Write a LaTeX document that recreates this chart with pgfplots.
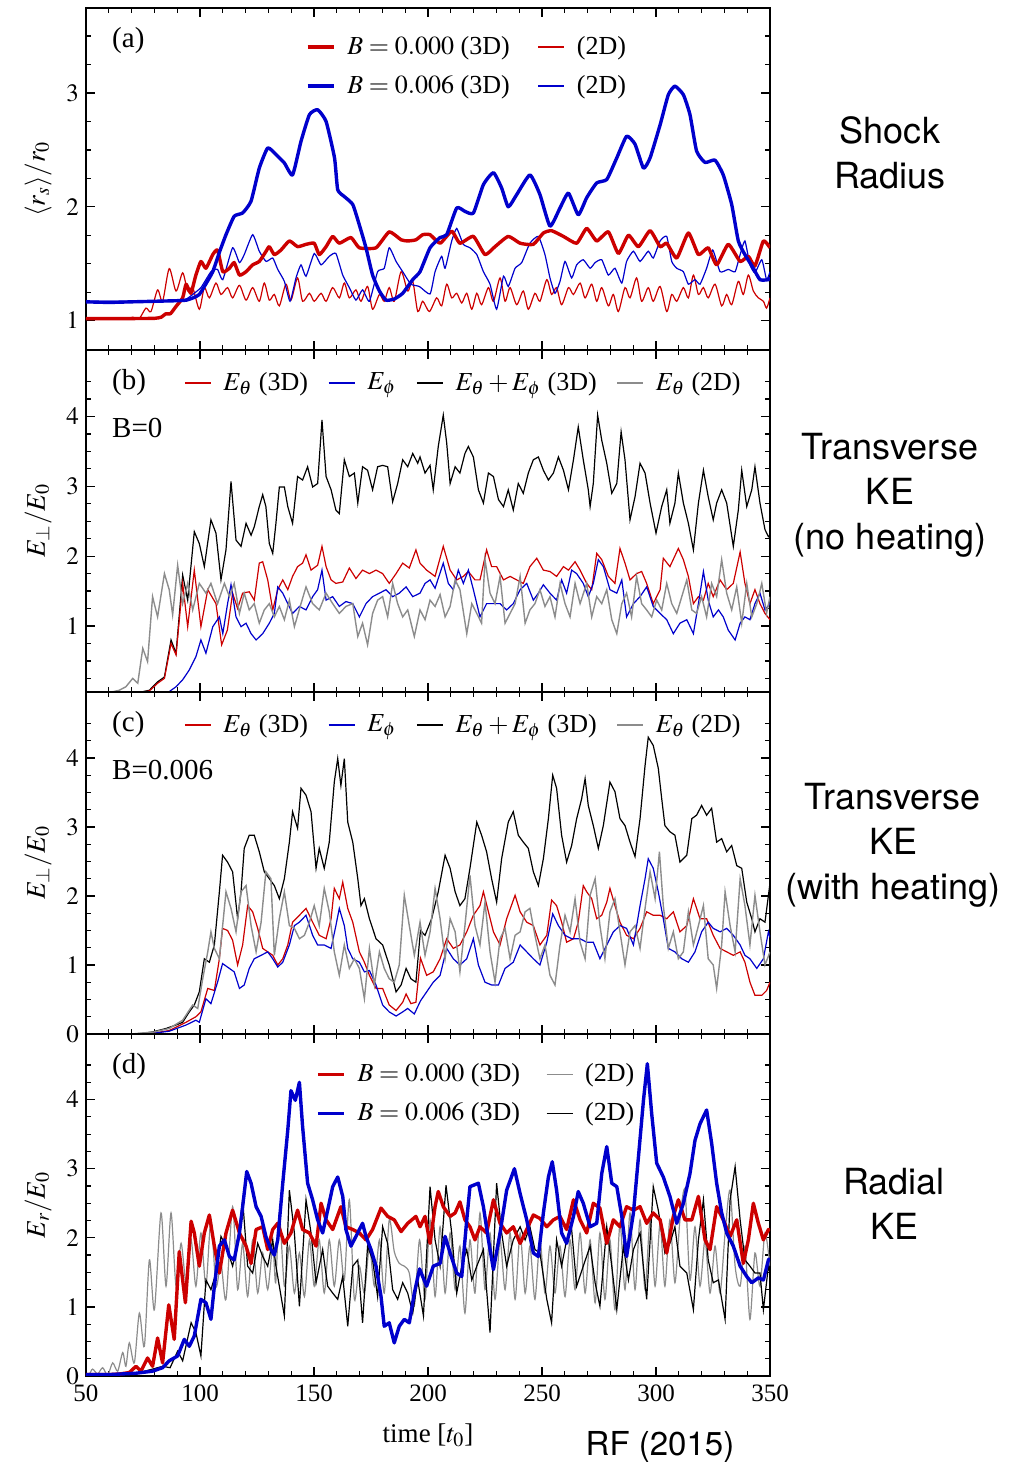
\documentclass[border=0pt]{standalone}
\usepackage{mathptmx}
\usepackage{fontspec}
\setmainfont{Liberation Serif}
\newfontfamily\sansf{TeX Gyre Heros}
\usepackage{pgfplots}
\pgfplotsset{compat=1.18}
\definecolor{cR}{RGB}{204,0,0}
\definecolor{cB}{RGB}{0,0,204}
\definecolor{cG}{RGB}{140,140,140}
\pgfplotsset{
  panel/.style={
    scale only axis, width=342pt, height=171pt,
    xmin=50, xmax=350, xtick={50,100,...,350}, minor x tick num=4,
    xticklabels={},
    tick align=inside, xtick pos=both, ytick pos=both,
    major tick length=4.5pt, minor tick length=2.5pt,
    every tick/.style={black, line width=0.6pt},
    axis line style={line width=0.7pt},
    tick label style={font=\fontsize{12.5}{14}\selectfont},
    every axis y label/.style={at={(axis description cs:-0.07,0.5)}, rotate=90, anchor=center, font=\fontsize{13.5}{15}\selectfont},
    legend cell align=left,
    legend image code/.code={\draw[##1] (0pt,0pt) -- (13pt,0pt);},
    legend style={draw=none, fill=none, font=\fontsize{13}{15}\selectfont, inner sep=1pt},
  },
  thn/.style={line width=0.6pt},
  thk/.style={line width=1.7pt, line join=round},
}
\begin{document}
\begin{tikzpicture}
\useasboundingbox (0,0) rectangle (509pt,733pt);
% ---------------- (a)
\begin{axis}[panel, at={(43pt,558pt)}, anchor=south west,
  ymin=0.742, ymax=3.747, ytick={1,2,3},
  minor ytick={1.25,1.5,1.75,2.25,2.5,2.75,3.25,3.5},
  ylabel={$\langle r_s\rangle/r_0$},
  legend columns=2,
  legend style={at={(0.318,0.829)}, anchor=west, row sep=5pt, /tikz/every odd column/.append style={column sep=4pt}, /tikz/every even column/.append style={column sep=12pt}}]
\addplot[cR, thn, forget plot, smooth, tension=0.45] coordinates {(50,1.018) (60,1.018) (68,1.02) (70.5,1.03) (73.4,1.02) (76.3,1.11) (78.5,1.08) (81.4,1.27) (83.6,1.17) (86.5,1.457) (89.5,1.26) (92.4,1.42) (94.6,1.26) (96.8,1.29) (99.7,1.10) (101.9,1.29) (104.1,1.20) (107,1.33) (109.2,1.23) (112.1,1.29) (114.3,1.20) (117.3,1.31) (120.2,1.18) (123.1,1.29) (126,1.17) (128.2,1.33) (130.4,1.18) (132.6,1.23) (134.8,1.13) (137.7,1.32) (139.9,1.18) (142.8,1.375) (145,1.17) (148,1.24) (150.1,1.17) (153.1,1.24) (155.3,1.17) (158.2,1.29) (161.1,1.20) (163.3,1.33) (165.5,1.20) (168.4,1.27) (170.6,1.17) (173.5,1.30) (175.7,1.10) (178.7,1.23) (180.8,1.17) (183,1.29) (185.2,1.17) (188.2,1.43) (191.1,1.26) (193.3,1.345) (195.5,1.08) (197.7,1.17) (200.6,1.08) (203.8,1.20) (206,1.13) (208.2,1.32) (210.4,1.20) (212.6,1.24) (214.8,1.155) (217,1.24) (219.2,1.10) (221.4,1.24) (223.5,1.14) (226.5,1.29) (228.7,1.17) (231.6,1.375) (233.8,1.17) (236,1.29) (238.9,1.14) (241.8,1.26) (244,1.10) (246.9,1.24) (249.1,1.17) (252.1,1.36) (254.2,1.23) (256.4,1.29) (258.6,1.14) (261.6,1.29) (263.8,1.23) (266.7,1.33) (268.9,1.20) (271.8,1.32) (274,1.17) (276.2,1.29) (279.1,1.13) (281.3,1.23) (283.5,1.08) (286.4,1.29) (288.6,1.20) (291.5,1.375) (293.7,1.17) (296.6,1.29) (298.8,1.17) (301.8,1.30) (304.7,1.08) (306.9,1.23) (309.1,1.17) (312,1.29) (314.2,1.20) (316.4,1.40) (318.6,1.23) (320.8,1.29) (322.9,1.20) (325.9,1.32) (328.8,1.13) (331,1.23) (333.2,1.14) (336.1,1.345) (338.3,1.23) (340.5,1.40) (342.7,1.26) (344.9,1.20) (347.1,1.17) (348.5,1.11) (350,1.20)};
\addplot[cB, thn, forget plot, smooth, tension=0.3] coordinates {(50,1.17) (60,1.17) (70,1.17) (80,1.17) (90,1.175) (94,1.19) (96.8,1.23) (100.4,1.29) (104.8,1.43) (107.7,1.45) (110,1.36) (114.3,1.64) (117.3,1.51) (119.4,1.58) (123.1,1.755) (126,1.61) (129,1.52) (131.9,1.55) (134.1,1.45) (137,1.345) (139.5,1.17) (142.1,1.375) (144.3,1.49) (146.5,1.39) (150.1,1.59) (153.1,1.49) (156.7,1.565) (159.6,1.59) (162.6,1.40) (165.5,1.29) (168.4,1.18) (171.3,1.27) (174.3,1.17) (177.9,1.43) (180.8,1.46) (183,1.64) (186,1.52) (188.9,1.43) (192.5,1.32) (196.2,1.30) (200.9,1.234) (203.1,1.43) (206,1.565) (207.5,1.46) (210.4,1.70) (212.6,1.81) (215.5,1.67) (218.4,1.64) (221.4,1.58) (224.3,1.43) (227.2,1.32) (230.1,1.10) (233.1,1.39) (235.2,1.30) (238.2,1.46) (241.1,1.51) (244.7,1.68) (248.4,1.74) (251.3,1.58) (253.5,1.375) (255.7,1.24) (257.9,1.345) (260.1,1.52) (263,1.375) (265.2,1.49) (268.1,1.535) (271.1,1.46) (273.3,1.51) (276.2,1.535) (279.1,1.40) (282,1.46) (285,1.33) (287.1,1.52) (290.1,1.61) (293,1.52) (296.6,1.61) (298.8,1.55) (301.8,1.70) (304.7,1.74) (306.9,1.52) (309.1,1.46) (312,1.43) (314.2,1.32) (317.1,1.36) (319.3,1.32) (322.2,1.46) (324.9,1.62) (328.1,1.43) (331.7,1.45) (334.7,1.43) (336.9,1.58) (339,1.70) (341.2,1.49) (343.4,1.42) (346.4,1.535) (348.5,1.36) (350,1.43)};
\addplot[cR, thk, forget plot, smooth, tension=0.3] coordinates {(50,1.018) (60,1.018) (70,1.018) (80,1.02) (83,1.03) (85,1.06) (87,1.06) (89.5,1.125) (92.4,1.2) (93.9,1.32) (96,1.24) (98.2,1.40) (100.4,1.52) (102.6,1.46) (105.6,1.58) (107.7,1.62) (110,1.43) (112.9,1.46) (115,1.51) (117.3,1.40) (120.2,1.43) (123.1,1.49) (126,1.52) (129,1.61) (130.4,1.65) (132.6,1.58) (135.5,1.62) (139.2,1.70) (142.8,1.65) (146.5,1.67) (150.1,1.68) (152.3,1.58) (155.3,1.65) (158.2,1.74) (161.1,1.68) (166.2,1.73) (169.9,1.64) (177.2,1.64) (183,1.78) (188.2,1.71) (191.1,1.70) (194.7,1.71) (197.7,1.755) (200.9,1.755) (205.3,1.68) (210.4,1.785) (214,1.68) (219.9,1.74) (225,1.58) (229.4,1.65) (235.2,1.74) (240.4,1.68) (246.2,1.67) (250.6,1.77) (254.2,1.79) (259.4,1.74) (265.2,1.68) (269.6,1.81) (274,1.70) (279.1,1.78) (283.5,1.59) (287.9,1.75) (292.3,1.65) (297.4,1.79) (301.8,1.65) (304.7,1.68) (309.1,1.55) (314.2,1.77) (318.6,1.58) (322.9,1.64) (326.6,1.49) (331.7,1.67) (336.9,1.52) (340.5,1.565) (343.4,1.48) (347.1,1.70) (350,1.64)};
\addplot[cB, thk, forget plot, smooth, tension=0.3] coordinates {(50,1.165) (60,1.16) (70,1.165) (80,1.17) (90,1.175) (94,1.18) (97,1.2) (99.7,1.23) (102.5,1.32) (105.6,1.43) (108.5,1.6) (111.4,1.755) (115,1.917) (118.7,1.946) (122.4,2.05) (126,2.34) (129.7,2.517) (133.3,2.46) (137,2.385) (140.6,2.28) (144.3,2.575) (148,2.81) (151.6,2.853) (155.3,2.75) (159,2.43) (160.4,2.15) (163.3,2.09) (167,2.02) (169.9,1.84) (172.8,1.64) (175.7,1.40) (178.7,1.26) (181.6,1.18) (185.2,1.19) (188.9,1.24) (193.3,1.36) (196.5,1.43) (200.9,1.64) (205.3,1.73) (208.2,1.755) (212.6,1.99) (216.2,1.96) (219.9,1.945) (224.3,2.195) (228.7,2.30) (232.3,2.165) (235.2,2.0) (238.9,2.107) (244.7,2.28) (249.1,2.107) (253.5,1.83) (257.9,1.99) (261.6,2.12) (265.9,1.93) (269.6,2.08) (274,2.21) (278.4,2.24) (282.8,2.43) (287.1,2.62) (290.8,2.55) (294.5,2.34) (297.4,2.43) (301.8,2.72) (305.4,2.985) (308.3,3.06) (312,2.985) (314.9,2.81) (317.8,2.49) (321.5,2.39) (325.9,2.41) (329.5,2.28) (333.2,2.02) (336.1,1.70) (339,1.58) (342.7,1.46) (345.6,1.36) (349.3,1.36) (350,1.38)};
\addlegendimage{cR, thk}\addlegendentry{$B=0.000$ (3D)}
\addlegendimage{cR, thn}\addlegendentry{(2D)}
\addlegendimage{cB, thk}\addlegendentry{$B=0.006$ (3D)}
\addlegendimage{cB, thn}\addlegendentry{(2D)}
\node[anchor=west, font=\fontsize{14.5}{16}\selectfont] at (rel axis cs:0.028,0.906) {(a)};
\end{axis}
% ---------------- (b)
\begin{axis}[panel, at={(43pt,387pt)}, anchor=south west,
  ymin=0.055, ymax=4.952, ytick={1,2,3,4},
  minor ytick={0.25,0.5,0.75,1.25,1.5,1.75,2.25,2.5,2.75,3.25,3.5,3.75,4.25,4.5},
  ylabel={$E_\perp/E_0$},
  legend columns=4,
  legend style={at={(0.14,0.9035)}, anchor=west, /tikz/every odd column/.append style={column sep=4pt}, /tikz/every even column/.append style={column sep=8pt}}]
\addplot[black, thn, forget plot] coordinates {(72,0.055) (75,0.06) (77.8,0.08) (81.4,0.20) (84.4,0.27) (87.3,0.80) (89.5,0.61) (92.4,1.73) (94.6,1.37) (97.5,2.35) (99.7,2.18) (101.9,1.85) (104.8,2.52) (107,2.33) (109.2,1.66) (111.4,2.09) (113.6,3.07) (115.8,2.23) (118,2.14) (120.2,2.47) (122.4,2.30) (123.8,2.42) (126,2.71) (127.5,2.88) (128.9,2.71) (130.4,2.18) (131.9,2.04) (133.3,2.47) (134.8,2.99) (137,2.99) (138.5,2.71) (140.6,2.47) (142.8,3.14) (145,3.09) (147.2,3.28) (149.4,2.99) (151.6,3.04) (153.5,3.95) (155.3,3.14) (157.5,2.95) (159.6,2.66) (161.1,2.61) (163.3,3.38) (165.5,3.14) (167.7,3.19) (169.2,2.76) (171.3,3.28) (173.5,3.23) (175.7,2.95) (177.9,3.28) (180.1,3.30) (182.3,3.28) (184.5,2.78) (186.7,3.04) (188.9,3.38) (191.1,3.28) (193.3,3.47) (195.5,3.33) (196.5,3.42) (198.7,3.19) (200.9,3.30) (202.3,2.95) (204.5,3.57) (206.7,4.02) (208.2,3.62) (209.7,3.04) (211.9,3.28) (214,3.19) (216.2,3.47) (217.7,3.57) (219.9,3.42) (222.1,2.95) (224.3,2.76) (226.5,3.19) (228.7,3.14) (230.9,2.81) (233.1,2.71) (235.2,2.95) (237.4,2.66) (239.6,3.04) (241.8,2.90) (244,3.19) (246.2,3.38) (248.4,3.42) (250.6,3.23) (252.8,3.09) (255,3.19) (257.2,3.42) (259.4,3.23) (261.6,2.95) (263.8,3.38) (265.9,3.85) (268.1,3.38) (270.3,2.95) (271.1,2.71) (272.5,3.04) (274.4,4.02) (276.2,3.66) (278.4,3.33) (280.6,2.90) (282.8,3.04) (284.7,3.78) (286.4,3.38) (288.6,2.52) (290.8,2.85) (293,3.33) (295.2,3.19) (297.4,2.76) (300,2.33) (302.5,2.71) (304.7,2.95) (306.1,2.47) (308.3,2.76) (309.8,3.19) (312,2.76) (314.2,2.47) (316.4,2.09) (318.6,2.76) (320.8,3.23) (322.9,2.85) (325.1,2.52) (326.6,2.76) (328.8,2.95) (331,2.76) (333.9,2.14) (336.1,2.66) (337.6,3.23) (339.8,2.71) (342,2.95) (343.4,3.28) (345.6,2.76) (347.8,2.38) (349.3,2.28) (350,2.3)};
\addplot[cR, thn, forget plot] coordinates {(75,0.055) (77.8,0.07) (81.4,0.18) (84.4,0.25) (87.3,0.75) (89.5,0.585) (92.4,1.61) (94.6,0.99) (97.5,1.80) (100.4,0.99) (103.4,1.52) (107,1.32) (109.5,0.73) (112,0.94) (114.3,1.47) (116.5,1.25) (118.7,1.47) (121.6,1.49) (123.8,1.37) (126,1.90) (127.5,1.92) (129.7,1.66) (131.9,1.23) (134.1,1.52) (136.3,1.66) (138.5,1.52) (140.6,1.71) (142.8,1.85) (145,1.90) (146.5,2.02) (148.7,1.80) (151.6,1.87) (153.5,2.14) (155.3,1.85) (157.5,1.66) (159.6,1.61) (162.6,1.63) (165.5,1.83) (168.4,1.68) (171.3,1.80) (174.3,1.75) (177.2,1.80) (180.1,1.75) (183,1.61) (186,1.75) (188.9,1.90) (191.8,1.83) (194.7,2.09) (196.5,1.90) (199.4,1.80) (203.1,1.71) (206.7,2.14) (209.7,1.80) (212.6,1.66) (215.5,1.71) (217.7,1.78) (220.6,1.66) (222.8,1.66) (225.7,2.09) (227.9,1.85) (230.1,1.85) (233.1,1.66) (236,1.71) (238.9,1.66) (241.8,1.61) (244.7,1.85) (247.7,1.97) (250.6,1.80) (253.5,1.78) (256.4,1.71) (259.4,1.85) (261.6,1.80) (264.5,1.92) (266.7,1.80) (269.6,1.61) (271.8,1.52) (274,2.04) (276.2,1.95) (279.1,1.71) (282,1.61) (284.2,2.11) (286.4,1.90) (288.6,1.66) (291.5,1.75) (293.7,1.78) (295.9,1.61) (298.8,1.32) (301.8,1.52) (303.2,1.97) (306.1,1.85) (309.8,2.11) (312,1.95) (314.2,1.71) (316.4,1.32) (318.6,1.42) (320.8,1.37) (322.9,1.61) (325.1,1.42) (328.1,1.66) (331,1.52) (333.9,1.61) (336.9,2.06) (339,1.61) (341.2,1.32) (343.4,1.52) (345.6,1.32) (347.8,1.18) (350,1.09)};
\addplot[cB, thn, forget plot] coordinates {(85,0.055) (86.5,0.06) (89.5,0.13) (92.4,0.23) (95.3,0.37) (98.2,0.56) (100.4,0.80) (102.6,0.61) (105.6,0.99) (108.5,1.13) (110,0.89) (112.1,1.32) (113.6,1.59) (115.8,1.13) (118,0.99) (120.2,1.04) (122.4,0.89) (124.6,0.80) (127.5,0.89) (130.4,1.04) (132.6,1.18) (134.1,1.56) (136.3,1.47) (138.5,1.32) (140.6,1.18) (143.6,1.28) (146.5,1.23) (149.4,1.42) (151.6,1.52) (153.5,1.80) (155.3,1.37) (158.2,1.42) (161.1,1.28) (164,1.35) (167,1.32) (169.9,1.13) (172.8,1.32) (175.7,1.42) (178.7,1.47) (181.6,1.52) (184.5,1.42) (187.4,1.47) (190.4,1.56) (193.3,1.42) (196.5,1.47) (198.7,1.61) (200.9,1.66) (203.1,1.54) (206.7,1.90) (208.9,1.61) (211.1,1.52) (213.3,1.80) (215.5,1.61) (217.7,1.80) (219.9,1.52) (222.8,1.13) (225.7,1.32) (228.7,1.32) (231.6,1.32) (234.5,1.23) (237.4,1.32) (240.4,1.52) (243.3,1.61) (246.2,1.37) (248.4,1.47) (250.6,1.59) (253.5,1.47) (256.4,1.37) (258.6,1.66) (260.8,1.47) (263,1.80) (265.2,1.75) (268.1,1.61) (270.3,1.42) (272.5,1.61) (274.7,1.95) (276.9,1.85) (279.8,1.52) (282.8,1.47) (285,1.66) (287.1,1.13) (290.1,1.32) (293,1.42) (295.9,1.56) (298.8,1.28) (301.8,1.18) (304.7,1.09) (307.6,0.89) (310.5,1.04) (313.5,1.09) (316.4,0.89) (318.6,1.32) (320.8,1.78) (322.9,1.37) (325.1,1.13) (327.4,1.23) (329.5,1.13) (331.7,0.94) (334.7,0.80) (336.9,1.04) (339,1.13) (341.2,1.09) (343.4,1.32) (345.6,1.47) (347.8,1.23) (350,1.32)};
\addplot[cG, line width=0.7pt, forget plot] coordinates {(60,0.055) (62,0.06) (64.6,0.08) (67.5,0.13) (70.5,0.25) (72.7,0.18) (74.9,0.68) (77,0.49) (79.2,1.42) (81.4,1.13) (84.4,1.75) (86.5,1.52) (88,1.16) (90.2,1.87) (92.4,1.32) (94.6,1.61) (96.8,1.23) (99.7,1.61) (102.6,1.47) (104.8,1.61) (107.7,1.32) (110.7,1.61) (112.9,1.42) (115,1.61) (117.3,1.18) (119.4,1.47) (121.6,1.23) (123.8,1.32) (126,1.04) (128.2,1.23) (130.4,1.32) (132.6,1.13) (134.8,1.28) (137,1.09) (139.2,1.37) (141.4,0.99) (144.3,1.32) (146.5,1.56) (149.4,1.32) (152.3,1.23) (155.3,1.47) (158.2,1.32) (161.1,1.18) (164,1.28) (167,1.32) (169.2,0.85) (171.3,1.04) (173.5,0.73) (175.7,1.18) (177.9,1.37) (180.1,1.42) (182.3,1.13) (184.5,1.61) (186.7,1.32) (188.9,1.13) (191.1,1.23) (194,0.85) (196.5,1.23) (198.7,1.09) (200.9,1.37) (203.1,1.28) (205.3,1.45) (207.5,1.13) (209.7,1.28) (211.9,1.66) (214,1.52) (217,0.89) (219.2,1.32) (221.4,1.18) (223.5,1.04) (225,1.95) (227.2,1.47) (229.4,1.32) (231.6,1.71) (233.8,1.04) (236,1.18) (238.2,1.32) (240.4,1.71) (242.6,1.04) (244.7,1.23) (246.9,1.32) (249.1,1.52) (251.3,1.28) (253.5,1.42) (255.7,1.13) (257.9,1.61) (260.1,1.32) (262.3,1.13) (264.5,1.61) (266.7,1.32) (269.6,1.61) (271.8,1.13) (274,1.42) (276.2,1.32) (278.4,1.52) (280.6,1.09) (282.8,0.89) (285,1.32) (287.1,1.47) (289.3,1.13) (291.5,1.71) (293.7,1.32) (295.9,1.23) (298.1,1.13) (300.3,1.37) (302.5,1.23) (304.7,1.61) (306.9,1.32) (309.1,1.18) (311.3,1.42) (313.5,1.66) (315.7,1.23) (317.8,1.18) (320,1.42) (322.2,1.13) (324.4,1.61) (326.6,1.42) (328.8,1.95) (331,1.47) (333.2,1.23) (335.4,1.56) (337.6,1.04) (339.8,1.61) (342,1.13) (344.2,1.32) (346.4,1.61) (348.5,1.18) (350,1.42)};
\addlegendimage{cR, thn}\addlegendentry{$E_\theta$ (3D)}
\addlegendimage{cB, thn}\addlegendentry{$E_\phi$}
\addlegendimage{black, thn}\addlegendentry{$E_\theta+E_\phi$ (3D)}
\addlegendimage{cG, thn}\addlegendentry{$E_\theta$ (2D)}
\node[anchor=west, font=\fontsize{14.5}{16}\selectfont] at (rel axis cs:0.028,0.906) {(b)};
\node[anchor=west, font=\fontsize{14.5}{16}\selectfont] at (rel axis cs:0.028,0.772) {B=0};
\end{axis}
% ---------------- (c)
\begin{axis}[panel, at={(43pt,216pt)}, anchor=south west,
  ymin=0, ymax=4.955, ytick={0,1,2,3,4},
  minor ytick={0.25,0.5,0.75,1.25,1.5,1.75,2.25,2.5,2.75,3.25,3.5,3.75,4.25,4.5},
  ylabel={$E_\perp/E_0$},
  legend columns=4,
  legend style={at={(0.14,0.9035)}, anchor=west, /tikz/every odd column/.append style={column sep=4pt}, /tikz/every even column/.append style={column sep=8pt}}]
\addplot[black, thn, forget plot] coordinates {(50,0.0) (70,0.0) (75,0.01) (79.2,0.03) (85.1,0.08) (89.5,0.13) (92.4,0.17) (95.3,0.32) (97.5,0.42) (99.7,0.61) (101.9,1.09) (104.1,1.04) (106.3,1.29) (108.5,2.06) (109.9,2.59) (112.1,2.49) (114.3,2.35) (116.5,1.67) (118,2.06) (119.4,2.69) (121.6,2.88) (123.8,2.88) (126,2.64) (128.2,2.35) (130.4,2.25) (132.6,2.15) (134.8,1.96) (137,2.25) (139.2,2.78) (140.6,3.22) (142.8,2.98) (144.3,3.56) (146.5,3.46) (148.7,3.22) (150.9,2.40) (152.3,2.69) (154.5,2.40) (156.7,2.78) (158.9,3.65) (160.4,3.99) (161.8,3.60) (163.3,3.99) (164.8,3.07) (167,2.78) (169.2,2.25) (170.6,1.86) (172.1,1.96) (174.3,1.67) (177.2,1.38) (180.1,1.29) (183,1.0) (186,0.61) (188.2,0.71) (190.4,0.95) (192.5,0.80) (194.7,0.75) (196.7,1.5) (198.7,1.43) (201.6,1.67) (204.5,2.06) (207.5,2.59) (209.7,2.40) (211.9,2.06) (214,1.86) (216.2,1.96) (218.4,2.40) (221.4,3.07) (223.5,2.88) (225.7,2.64) (227.9,2.25) (230.1,1.91) (232.3,2.54) (235.2,3.07) (237.4,3.22) (239.6,2.88) (241.8,2.78) (244,2.69) (246.2,2.35) (248.4,2.15) (250.6,2.54) (252.8,3.12) (254.7,3.75) (256.4,3.56) (258.6,2.88) (260.8,2.49) (263,2.73) (265.2,3.12) (267.4,3.41) (268.9,3.70) (270.3,3.31) (272.5,3.02) (274.7,2.69) (276.9,3.02) (279.8,3.65) (282,3.51) (284.2,3.12) (286.4,3.02) (288.6,2.78) (290.8,2.57) (293,3.12) (295.2,3.89) (296.6,4.30) (298.8,4.18) (301,3.85) (302.5,3.41) (303.9,3.02) (306.1,2.93) (308.3,2.88) (310.5,2.49) (313.5,2.59) (315.7,3.12) (317.8,3.17) (320,3.31) (322.2,3.17) (324.4,3.27) (326.6,2.78) (328.8,2.83) (331,2.64) (333.2,2.73) (335.4,2.44) (337.6,2.40) (339.8,1.91) (342,1.67) (343.4,1.48) (345.6,1.67) (347.8,1.62) (349.7,2.11) (350,2.0)};
\addplot[cR, thn, forget plot] coordinates {(50,0) (70,0) (79.2,0.01) (86.5,0.05) (93.9,0.17) (98.2,0.25) (100.4,0.32) (103.4,0.66) (106.3,0.63) (108.5,1.09) (109.9,1.53) (112.1,1.50) (114.3,1.36) (116.5,1.0) (118.7,1.29) (120.9,1.86) (123.1,1.77) (125.3,1.53) (127.5,1.24) (129.7,1.19) (131.9,1.14) (134.1,1.0) (136.3,1.09) (138.5,1.29) (140.6,1.62) (143.6,1.72) (146.5,1.82) (149.4,1.62) (152.3,1.43) (155.3,1.38) (157.5,1.67) (158.9,2.11) (161.1,1.96) (162.6,2.20) (164.8,1.82) (167,1.62) (169.9,1.19) (172.1,1.04) (174.3,0.85) (177.2,0.66) (180.1,0.66) (183,0.42) (186,0.34) (188.9,0.46) (190.4,0.58) (192.5,0.44) (194.7,0.46) (196.7,1.1) (199.4,0.85) (202.3,0.90) (205.3,1.09) (208.2,1.38) (211.1,1.24) (214,1.29) (217,1.48) (219.9,1.72) (222.8,1.86) (224.3,2.06) (226.5,1.77) (228.7,1.48) (231.6,1.29) (234.5,1.67) (238.2,2.01) (240.4,1.77) (243.3,1.62) (246.2,1.57) (249.1,1.29) (252.1,1.43) (254.2,1.94) (256.4,1.86) (258.6,1.62) (260.8,1.33) (263.8,1.38) (265.9,1.62) (268.1,2.15) (269.6,2.06) (271.8,1.96) (274,1.67) (276.2,1.72) (278.4,1.91) (279.8,2.11) (282,1.86) (284.2,1.62) (287.1,1.43) (290.1,1.38) (293,1.53) (295.9,1.77) (298.8,1.72) (301.8,1.72) (304.7,1.67) (307.6,1.77) (310.5,1.48) (313.5,1.57) (316.4,1.96) (319.3,1.67) (322.2,1.67) (325.1,1.43) (328.1,1.24) (331,1.19) (333.9,1.14) (336.9,1.19) (339,1.04) (341.2,0.75) (343.4,0.56) (346.4,0.56) (348.5,0.63) (350,0.75)};
\addplot[cB, thn, forget plot] coordinates {(50,0) (70,0) (79.2,0.01) (86.5,0.04) (93.9,0.13) (98.2,0.20) (99.7,0.17) (102.6,0.51) (104.8,0.44) (107.7,0.75) (109.9,1.02) (112.9,0.95) (115,0.90) (117.3,0.66) (119.4,0.71) (121.6,0.95) (123.8,1.09) (126.8,1.14) (129.7,1.19) (131.9,1.09) (134.1,0.97) (136.3,1.04) (139.2,1.29) (141.4,1.57) (143.6,1.62) (146.5,1.72) (149.4,1.43) (151.6,1.29) (154.5,1.29) (157.5,1.24) (159.6,1.57) (161.1,1.82) (163.3,1.57) (164.8,1.24) (167,1.09) (169.9,1.04) (172.1,0.90) (174.3,0.92) (177.2,0.71) (180.1,0.42) (183,0.32) (186,0.26) (188.9,0.32) (191.1,0.37) (194,0.29) (196.7,0.48) (199.4,0.61) (202.3,0.75) (205.3,0.85) (208.2,1.24) (211.1,1.09) (214,1.0) (217,1.09) (219.9,1.38) (222.1,1.0) (225,0.75) (227.9,0.71) (230.9,0.71) (233.8,0.95) (237.4,1.04) (240.4,1.29) (243.3,1.19) (246.2,1.09) (249.1,1.0) (252.1,1.33) (254.7,1.74) (257.2,1.57) (260.1,1.43) (263,1.38) (266.7,1.38) (269.6,1.33) (272.5,1.33) (275.4,1.09) (278.4,1.29) (281.3,1.48) (284.2,1.57) (287.1,1.53) (290.1,1.29) (293,1.86) (295.2,2.25) (296.6,2.54) (298.8,2.40) (301,2.06) (303.2,1.67) (305.4,1.24) (308.3,1.19) (311.3,1.09) (314.2,1.04) (317.1,1.19) (320,1.48) (322.9,1.62) (325.1,1.53) (328.1,1.48) (331,1.53) (333.9,1.43) (336.9,1.29) (339,1.14) (341.2,1.09) (344.2,0.95) (347.1,1.09) (349.3,1.48) (350,1.4)};
\addplot[cG, line width=0.7pt, forget plot] coordinates {(50,0) (70,0.0) (80,0.03) (86.5,0.08) (92.4,0.20) (96.8,0.42) (99,0.37) (101.2,0.80) (103.4,1.19) (104.8,1.48) (106.3,1.24) (108.5,1.09) (111.4,2.06) (113.6,1.82) (115.8,1.48) (118,2.06) (120.2,2.15) (122.4,1.57) (124.6,1.19) (126.8,1.62) (128.9,2.35) (131.1,2.25) (132.6,1.14) (134.8,1.67) (137,2.06) (139.2,1.57) (141.4,1.53) (143.6,1.38) (145.8,1.43) (148,1.62) (150.1,1.86) (152.3,1.57) (154.5,2.11) (156.7,1.77) (158.9,1.19) (161.1,0.85) (163.3,1.29) (165.5,0.95) (167.7,1.09) (169.9,0.95) (172.1,0.51) (174.3,1.24) (176.5,0.71) (178.7,1.19) (180.8,0.95) (183,0.80) (185.2,0.75) (187.4,1.0) (189.6,2.01) (191.8,1.57) (194,1.14) (196.5,1.62) (198.7,1.14) (200.9,1.48) (203.1,2.11) (205.3,1.67) (207.5,1.09) (209.7,1.67) (211.9,1.48) (214,0.90) (216.2,1.57) (218.4,2.30) (220.6,1.57) (222.8,1.29) (225,1.91) (227.2,1.19) (229.4,0.75) (231.6,1.38) (233.8,1.53) (236,1.09) (238.2,1.43) (240.4,1.48) (242.6,1.77) (244.7,1.82) (246.9,1.43) (249.1,1.09) (251.3,1.29) (253.5,0.85) (255.7,0.71) (257.9,1.29) (260.1,1.72) (262.3,1.48) (264.5,1.96) (266.7,1.33) (268.9,1.09) (271.1,2.01) (273.3,2.25) (275.4,1.57) (277.6,1.09) (279.8,1.77) (282,1.96) (284.2,1.48) (286.4,1.0) (288.6,1.48) (290.8,1.57) (293,1.24) (295.2,1.82) (297.4,2.35) (299.6,1.96) (301.5,2.64) (303.2,1.86) (305.4,1.24) (307.6,1.48) (309.8,1.09) (312,1.19) (314.2,1.77) (316.4,1.29) (318.6,1.57) (320.8,1.86) (322.9,1.09) (325.1,1.0) (326.6,0.66) (328.8,1.29) (330.3,2.06) (332.5,1.57) (334.7,1.19) (336.9,2.25) (339,1.86) (341.2,1.29) (343.4,2.01) (345.6,1.48) (347.8,1.0) (350,1.19)};
\addlegendimage{cR, thn}\addlegendentry{$E_\theta$ (3D)}
\addlegendimage{cB, thn}\addlegendentry{$E_\phi$}
\addlegendimage{black, thn}\addlegendentry{$E_\theta+E_\phi$ (3D)}
\addlegendimage{cG, thn}\addlegendentry{$E_\theta$ (2D)}
\node[anchor=west, font=\fontsize{14.5}{16}\selectfont] at (rel axis cs:0.028,0.906) {(c)};
\node[anchor=west, font=\fontsize{14.5}{16}\selectfont] at (rel axis cs:0.028,0.772) {B=0.006};
\end{axis}
% ---------------- (d)
\begin{axis}[panel, at={(43pt,45pt)}, anchor=south west,
  ymin=0, ymax=4.95, ytick={0,1,2,3,4},
  minor ytick={0.25,0.5,0.75,1.25,1.5,1.75,2.25,2.5,2.75,3.25,3.5,3.75,4.25,4.5},
  xticklabels={50,100,150,200,250,300,350},
  xticklabel style={yshift=-1pt},
  ylabel={$E_r/E_0$},
  xlabel={time [$t_0$]},
  every axis x label/.style={at={(axis description cs:0.5,-0.1725)}, anchor=center, font=\fontsize{13.5}{15}\selectfont},
  legend columns=2,
  legend style={at={(0.333,0.825)}, anchor=west, row sep=5pt, /tikz/every odd column/.append style={column sep=4pt}, /tikz/every even column/.append style={column sep=11pt}}]
\addplot[cG, thn, forget plot, smooth, tension=0.45] coordinates {(50,0.02) (51.5,0.03) (52.9,0.10) (55.1,0.03) (57.3,0.12) (59.5,0.01) (61.7,0.19) (63.9,0.07) (66.1,0.34) (67.5,0.14) (69,0.48) (71.2,0.19) (73.4,0.91) (75.6,0.43) (77.8,1.68) (80,0.96) (82.9,2.36) (85.1,1.30) (87.3,2.36) (89.5,1.30) (91.7,1.92) (93.9,1.35) (96.1,1.97) (98.2,1.30) (100.4,2.07) (102.6,1.30) (104.8,2.26) (107,1.30) (109.2,1.63) (111.4,1.11) (114.3,2.45) (116.5,1.25) (118.7,1.92) (120.9,1.15) (123.1,1.97) (125.3,1.20) (127.5,1.78) (129.7,1.25) (131.9,1.88) (133.2,1.35) (134.8,2.36) (137,1.30) (139.2,1.88) (141.4,1.20) (143.6,1.78) (145.8,1.15) (148,1.97) (150.1,1.30) (152.3,1.97) (154.5,1.20) (156.7,1.97) (158.9,1.30) (161.1,1.97) (163.3,1.39) (165.5,2.55) (167.7,1.11) (169.9,1.59) (172.1,1.20) (174.3,1.88) (176.5,1.30) (178.7,1.97) (180.8,1.20) (183,2.26) (185.2,1.8) (187.4,1.63) (189.6,1.59) (191.8,1.49) (194,1.01) (196.3,1.97) (198.7,1.11) (200.9,2.26) (203.1,1.15) (205.3,2.16) (207.5,1.20) (209.7,2.07) (211.9,1.25) (214,1.88) (216.2,0.91) (218.4,1.97) (220.6,1.20) (222.8,2.36) (225,1.25) (227.2,2.07) (229.4,1.11) (231.6,1.97) (233.8,1.25) (236,2.07) (238.2,1.11) (240.4,2.07) (242.6,1.20) (244.7,1.88) (246.9,1.11) (249.1,1.97) (251.3,1.20) (253.5,1.88) (255.7,1.20) (257.9,1.88) (260.1,1.15) (262.3,1.97) (264.5,1.25) (266.7,2.07) (268.9,1.20) (271.1,1.97) (273.3,1.06) (275.4,2.07) (277.6,1.11) (279.8,1.97) (282,0.96) (284.2,2.21) (286.4,1.25) (288.6,2.36) (290.8,1.25) (293,2.26) (295.2,1.25) (297.4,2.26) (299.6,1.30) (301.8,2.21) (303.9,1.30) (306.1,2.26) (308.3,1.35) (310.5,2.26) (312.7,2.69) (314.9,1.39) (317.1,2.16) (319.3,1.30) (321.5,1.97) (323.7,1.20) (325.9,1.88) (328.1,1.20) (330.3,2.07) (332.5,2.69) (334.7,1.59) (336.9,1.30) (339,1.88) (341.2,0.82) (343.4,1.78) (345.6,1.30) (347.8,2.07) (350,1.59)};
\addplot[black, thn, forget plot] coordinates {(50,0.02) (70,0.02) (79.2,0.10) (83.6,0.14) (86.9,0.12) (90.2,0.36) (92.4,0.22) (96.1,0.77) (98.2,0.63) (100.4,0.29) (102.6,1.39) (104.8,1.25) (107,1.49) (109.2,2.02) (111.4,1.88) (114.3,1.59) (116.5,1.92) (118.7,2.55) (120.9,1.59) (123.1,1.49) (125.3,1.92) (127.5,1.73) (129.7,1.59) (131.9,1.97) (133.3,1.59) (134.8,1.30) (137,0.87) (139.2,2.69) (141.4,2.07) (143.6,1.01) (146.5,2.55) (148.7,2.07) (150.9,1.35) (153.8,1.83) (156,1.30) (158.2,1.20) (160.4,1.11) (162.6,1.44) (164.8,0.72) (167,1.59) (169.2,1.68) (171.3,0.77) (173.5,1.88) (175.7,1.68) (177.9,1.15) (180.1,2.16) (182.3,1.92) (184.5,1.25) (186.7,1.11) (188.9,1.35) (191.1,1.20) (193.3,0.91) (195.5,1.39) (198,0.87) (200.9,2.74) (203.1,1.97) (205.3,1.59) (207.9,2.76) (210.4,2.07) (212.6,1.20) (214.8,1.59) (217,1.83) (219.2,1.39) (221.4,1.59) (224.3,1.83) (227.2,0.63) (230.1,2.79) (232.3,2.07) (234.5,1.59) (237.4,1.97) (240.4,2.16) (242.6,1.97) (244.7,2.16) (246.9,1.83) (249.1,1.78) (252.1,1.11) (254.2,0.77) (256.4,1.97) (258.6,1.59) (260.8,1.97) (263,2.12) (265.2,1.30) (268.1,1.59) (271.1,1.88) (273.3,1.35) (275.4,1.01) (278.4,2.16) (280.6,1.59) (282.8,0.96) (285.7,1.88) (287.9,1.39) (290.1,1.83) (293,2.07) (295.9,1.11) (298.8,2.74) (301,2.40) (303.9,1.78) (306.1,1.92) (308.3,2.16) (310.5,1.59) (313.5,1.49) (316.4,0.96) (318.6,1.97) (320.8,2.55) (322.9,1.68) (325.1,1.35) (327.4,1.39) (330.3,0.82) (332.5,2.55) (334.7,3.03) (336.9,2.26) (339,1.68) (341.2,1.59) (343.4,1.49) (345.6,1.49) (347.1,0.96) (349.3,1.59) (350,1.5)};
\addplot[cR, thk, forget plot] coordinates {(50,0.02) (60,0.02) (65,0.03) (69,0.05) (71.9,0.14) (74.1,0.07) (77,0.26) (79.2,0.14) (81.4,0.55) (83.6,0.19) (86.3,1.03) (88.7,0.53) (90.9,1.80) (93.6,1.06) (96.1,2.24) (97.5,2.07) (99.7,1.59) (101.9,2.07) (104.1,2.33) (106.3,1.88) (108.5,1.49) (111.4,2.07) (114.3,2.40) (117.3,2.07) (120.2,1.88) (122.4,1.63) (124.6,2.12) (127.5,2.16) (129.7,1.83) (131.9,2.12) (134.1,2.21) (137,1.92) (139.9,2.07) (142.8,2.40) (145,2.12) (148,2.07) (150.9,1.88) (153.1,2.50) (155.3,2.26) (158.2,2.12) (161.8,2.45) (164,2.16) (167,2.12) (169.9,2.07) (172.8,1.97) (175.7,2.12) (179.4,2.43) (182.3,2.31) (185.2,2.26) (188.2,2.09) (191.1,2.21) (194.7,2.31) (196.5,2.16) (198.7,2.31) (200.9,1.92) (203.1,2.45) (204.5,2.67) (206.7,2.45) (209.7,2.31) (211.9,2.36) (214,2.52) (216.2,2.26) (218.4,2.16) (220.6,1.97) (222.8,2.16) (225.7,2.07) (228.7,2.55) (231.6,2.21) (234.5,2.07) (237.4,2.16) (240.4,1.92) (243.3,2.12) (246.2,2.33) (249.1,2.28) (252.1,2.16) (255,2.26) (257.9,2.31) (260.8,2.12) (263.8,2.55) (266.7,2.26) (269.6,2.07) (272.5,2.50) (275.4,2.43) (278.4,1.92) (281.3,2.26) (284.2,2.16) (287.1,2.45) (290.1,2.40) (293,2.45) (295.9,2.21) (298.8,2.36) (301.8,2.26) (304.7,1.78) (307.6,2.31) (309.8,2.55) (312.7,2.26) (315.7,2.26) (318.6,2.60) (321.5,1.97) (323.7,1.83) (326.6,2.45) (329.5,2.26) (332.5,2.02) (335.4,2.26) (338.3,1.63) (340.5,1.97) (342.7,2.50) (344.9,2.21) (347.1,1.97) (349.3,2.12) (350,2.1)};
\addplot[cB, thk, forget plot] coordinates {(50,0.02) (60,0.02) (71.9,0.04) (79.2,0.07) (83.6,0.12) (86.5,0.22) (90.2,0.29) (93.1,0.53) (95.3,0.43) (97.5,0.58) (100.4,1.11) (102.6,1.06) (104.8,0.82) (106.3,1.30) (108.5,1.88) (110.7,1.97) (112.9,1.73) (115,1.68) (117.3,2.07) (118.7,2.45) (120.5,2.96) (122.4,2.79) (124.6,2.45) (126.8,2.31) (128.9,2.02) (131.1,1.83) (132.6,1.75) (134.1,1.97) (136.3,2.79) (138.5,3.56) (139.9,4.13) (141.8,3.99) (143.6,4.25) (145,3.61) (147.2,2.79) (149.4,2.55) (151.6,2.26) (153.8,2.07) (156,2.40) (158.2,2.74) (160.4,2.88) (162.6,2.60) (164,2.12) (166.2,1.88) (168.4,2.02) (169.9,2.12) (171.3,2.21) (172.8,2.02) (175,1.83) (177.2,1.59) (179.4,1.15) (180.8,0.72) (183,0.77) (185.2,0.48) (187.4,0.72) (189.6,0.82) (191.8,0.77) (194,1.20) (196.3,1.55) (199.4,1.30) (202.3,1.59) (205.3,1.63) (207.5,2.02) (209.7,1.78) (212.6,1.49) (214.8,1.44) (217,2.26) (218.4,2.74) (222.1,2.79) (224.3,2.45) (226.5,1.97) (228.7,1.54) (231.6,2.07) (234.5,2.69) (237.9,3.00) (240.4,2.64) (243.3,2.26) (246.2,1.78) (248.4,1.73) (250.6,2.36) (252.8,2.88) (254.5,3.10) (256.4,2.69) (258.6,2.07) (260.8,1.92) (263.8,2.31) (265.9,2.67) (268.1,2.50) (271.1,2.16) (274,2.21) (276.2,2.93) (278.4,3.32) (280.6,2.79) (282.8,2.74) (285,2.31) (287.1,1.73) (290.1,2.36) (292.3,3.17) (294.5,3.99) (296.2,4.52) (298.1,3.80) (300.3,3.08) (303.2,2.88) (306.1,2.60) (309.1,2.21) (312,2.50) (314.9,2.93) (317.1,3.41) (319.3,3.65) (322.2,3.85) (324.4,3.37) (326.6,2.79) (328.8,2.36) (331,2.07) (333.9,1.88) (336.9,1.59) (339.8,1.44) (342,1.35) (344.9,1.42) (347.1,1.39) (349.3,1.68) (350,1.7)};
\addlegendimage{cR, thk}\addlegendentry{$B=0.000$ (3D)}
\addlegendimage{cG, thn}\addlegendentry{(2D)}
\addlegendimage{cB, thk}\addlegendentry{$B=0.006$ (3D)}
\addlegendimage{black, thn}\addlegendentry{(2D)}
\node[anchor=west, font=\fontsize{14.5}{16}\selectfont] at (rel axis cs:0.028,0.906) {(d)};
\end{axis}
% ---------------- side labels
\node[align=center, font=\sansf\fontsize{18}{22.5}\selectfont] at (445pt,656.75pt) {Shock\\Radius};
\node[align=center, font=\sansf\fontsize{18}{22.5}\selectfont] at (445pt,485.5pt) {Transverse\\KE\\(no heating)};
\node[align=center, font=\sansf\fontsize{18}{22.5}\selectfont] at (446.5pt,310.5pt) {Transverse\\KE\\(with heating)};
\node[align=center, font=\sansf\fontsize{18}{22.5}\selectfont] at (447pt,131pt) {Radial\\KE};
\node[font=\sansf\fontsize{16.5}{18}\selectfont] at (330pt,9.5pt) {RF (2015)};
\end{tikzpicture}
\end{document}
